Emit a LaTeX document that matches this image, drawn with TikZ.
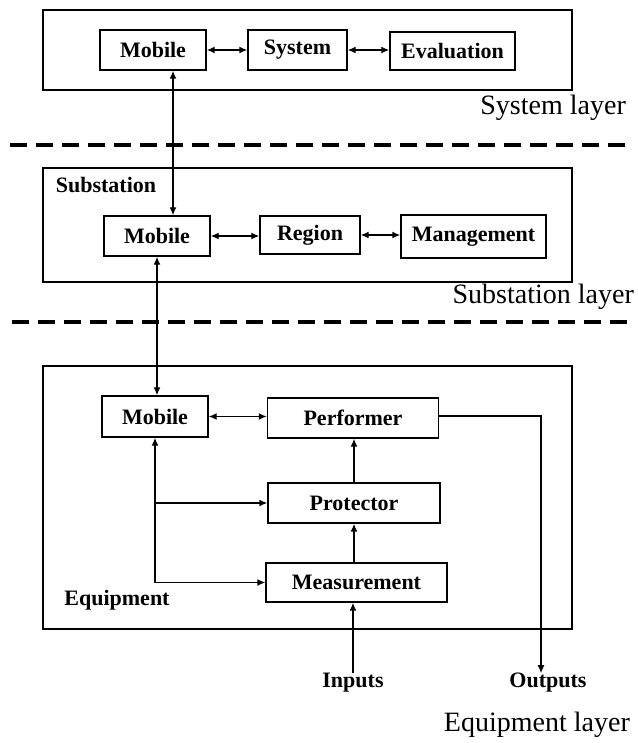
\documentclass[tikz,border=0pt]{standalone}
\usepackage{fontspec}
\setmainfont{Liberation Serif}
\usetikzlibrary{arrows.meta,positioning}

\begin{document}
\begin{tikzpicture}[x=1pt, y=-1pt,
    layer/.style={rectangle, draw, line width=1.4pt, minimum width=529pt, inner sep=0pt},
    unit/.style={rectangle, draw, line width=1.4pt, minimum height=40pt, inner sep=0pt, text centered, font=\fontsize{22}{24}\selectfont\bfseries},
    tag/.style={font=\fontsize{22}{24}\selectfont\bfseries, inner sep=0pt},
    layername/.style={font=\fontsize{28}{30}\selectfont, inner sep=0pt, anchor=east},
    arrow/.style={-{Latex[length=8pt,width=7pt]}, line width=1.4pt},
    both/.style={{Latex[length=8pt,width=7pt]}-{Latex[length=8pt,width=7pt]}, line width=1.4pt},
    sep/.style={dashed, line width=3.5pt, dash pattern=on 17pt off 9pt}
]
\useasboundingbox (0,0) rectangle (637,743);

% System layer
\node[layer, minimum height=80pt] (sysbox) at (307.5,50) {};
\node[unit, minimum width=106pt] (sysmob) at (153,50) {Mobile};
\node[unit, minimum width=99pt] (system) at (297.5,50) {System};
\node[unit, minimum width=125pt, minimum height=38pt] (eval) at (452.5,51) {Evaluation};
\node[layername] (syslayer) at (626,108) {System layer};

\draw[both] (sysmob.east) -- (system.west);
\draw[both] (system.east) -- (system.east -| eval.west);

\draw[sep] (10,145) -- (625,145);

% Substation layer
\node[layer, minimum height=114pt] (subbox) at (307.5,225) {};
\node[tag] (sublabel) at (106,185) {Substation};
\node[unit, minimum width=106pt] (submob) at (157,236) {Mobile};
\node[unit, minimum width=100pt, minimum height=38pt] (region) at (310,235) {Region};
\node[unit, minimum width=145pt, minimum height=43pt] (manage) at (473.5,236.5) {Management};
\node[layername] (sublayer) at (634,297) {Substation layer};

\draw[both] (submob.east) -- (submob.east -| region.west);
\draw[both] (region.east) -- (region.east -| manage.west);

\draw[sep] (12,322) -- (632,322);

% Equipment layer
\node[layer, minimum height=263pt] (eqbox) at (307.5,497.5) {};
\node[tag] (eqlabel) at (117,600) {Equipment};
\node[unit, minimum width=106pt, minimum height=41pt] (eqmob) at (155,416.5) {Mobile};
\node[unit, minimum width=171pt] (perf) at (353,418) {Performer};
\node[unit, minimum width=172pt] (prot) at (354,503) {Protector};
\node[unit, minimum width=181pt, minimum height=39pt] (meas) at (356.5,582.5) {Measurement};
\node[tag] (inputs) at (353,683) {Inputs};
\node[tag] (outputs) at (548,683) {Outputs};
\node[layername] (eqlayer) at (630,725) {Equipment layer};

% Arrows between layers
\draw[both] ([xshift=20pt]sysmob.south) -- ([xshift=16pt]submob.north);
\draw[both] (submob.south) -- (submob.south |- eqmob.north);

% Arrows inside equipment
\draw[both] (eqmob.east) -- (eqmob.east -| perf.west);
\draw[both] (eqmob.south) |- (meas.west);
\draw[arrow] (eqmob.south |- prot.west) -- (prot.west);
\draw[arrow] (prot.north) -- (prot.north |- perf.south);
\draw[arrow] (meas.north -| prot.north) -- (prot.south);
\draw[arrow] (inputs.north) -- (inputs.north |- meas.south);
\draw[arrow] ([yshift=2pt]perf.east) -| ([xshift=-7pt]outputs.north);

\end{tikzpicture}
\end{document}
